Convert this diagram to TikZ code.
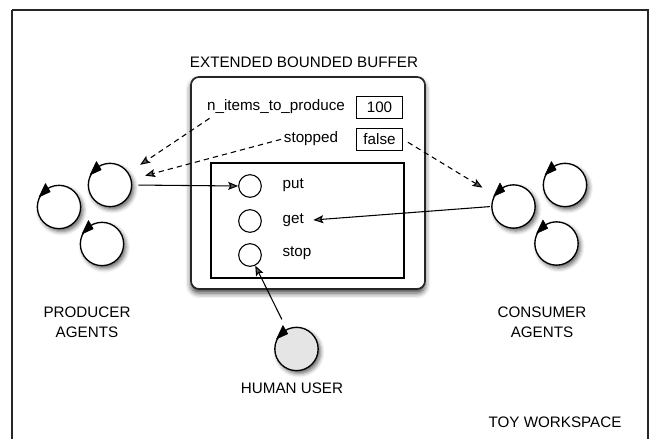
\documentclass[tikz,border=0pt]{standalone}
\usepackage{fontspec}
\setmainfont{Liberation Sans}
\usetikzlibrary{arrows.meta,shadows.blur,calc}
\begin{document}
\begin{tikzpicture}[x=0.75pt,y=-0.75pt,
  every node/.style={font=\fontsize{11.4}{15}\selectfont, text=black},
  agent/.style={circle, draw=black, line width=1pt, fill=white, minimum size=32.5pt, inner sep=0pt,
    blur shadow={shadow xshift=1.8pt, shadow yshift=-2.2pt, shadow blur radius=3pt, shadow opacity=60}},
  human/.style={agent, fill=black!10},
  opc/.style={circle, draw=black, line width=0.8pt, fill=white, minimum size=17pt, inner sep=0pt},
  valbox/.style={draw=black, line width=0.8pt, minimum width=35pt, minimum height=17pt, inner sep=1pt},
  bufbox/.style={draw=black!85, line width=1.3pt, rounded corners=6pt, fill=white,
    blur shadow={shadow xshift=0pt, shadow yshift=-3pt, shadow blur radius=4pt, shadow opacity=75}},
  frame/.style={draw=black!85, line width=1.5pt},
  agenthead/.style={fill=black, line join=round, draw=black, line width=0.4pt},
  conn/.style={-{Stealth[length=7.5pt,width=6pt,inset=1.5pt]}, line width=0.8pt},
  dconn/.style={conn, dash pattern=on 4pt off 3pt}
]
\useasboundingbox (0,0) rectangle (650,439);
% workspace frame
\draw[frame] (11.5,9.5) -- (11.5,445) (11.5,9.5) -- (648,9.5) -- (648,445);
\node (toy) at (555,422) {TOY WORKSPACE};

% buffer artifact
\node (ebb) at (304,62) {EXTENDED BOUNDED BUFFER};
\path[bufbox] (191,77) rectangle (425,289);
\node[inner sep=1pt] (ntp) at (276,107) {n\_items\_to\_produce};
\node[inner sep=1pt] (stp) at (311,139) {stopped};
\node[valbox] (v100) at (379.5,107.5) {100};
\node[valbox] (vfalse) at (379.5,139.5) {false};
\draw[line width=0.8pt] (211,163) rectangle (404,278);
\node[opc] (cput) at (250,186) {};
\node[opc] (cget) at (250,221) {};
\node[opc] (cstop) at (250,255) {};
\node[anchor=west, inner sep=1pt] (lput) at (281,185) {put};
\node[anchor=west, inner sep=1pt] (lget) at (281,220) {get};
\node[anchor=west, inner sep=1pt] (lstop) at (281,253) {stop};

% producer agents
\node[agent] (p2) at (59,207) {};
\node[agent] (p1) at (110,185) {};
\node[agent] (p3) at (102,244) {};
% consumer agents
\node[agent] (c2) at (565,185) {};
\node[agent] (c1) at (513.5,206.5) {};
\node[agent] (c3) at (556.5,243.5) {};
% human user
\node[human] (hu) at (296.5,349) {};

\foreach \a in {p1,p2,p3,c1,c2,c3,hu}{
  \fill[agenthead] (\a.153) -- ($(\a.120)!3.6pt!(\a.center)$) -- ($(\a.120)!-3.6pt!(\a.center)$) -- cycle;
}

\node[align=center] (pl) at (87,322) {PRODUCER\\AGENTS};
\node[align=center] (cl) at (542,322) {CONSUMER\\AGENTS};
\node (hl) at (292,388) {HUMAN USER};

% connectors
\draw[conn, shorten <=4.5pt] (p1.east) -- (cput.west);
\draw[conn, shorten <=1pt] (c1.west) -- ([xshift=6pt]lget.east);
\draw[conn, shorten <=8pt] (hu) -- (cstop);
\draw[dconn, shorten >=10.5pt] ([xshift=3pt,yshift=-2pt]ntp.south west) -- (p1);
\draw[dconn, shorten >=10.5pt, shorten <=1pt] (stp.west) -- (p1);
\draw[dconn, shorten >=10.5pt, shorten <=4pt] (vfalse.east) -- (c1);
\end{tikzpicture}
\end{document}
